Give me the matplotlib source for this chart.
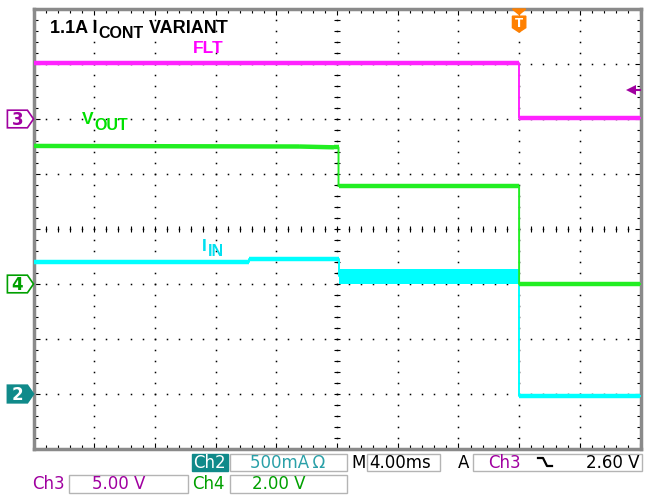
import matplotlib
matplotlib.use("Agg")
import matplotlib.pyplot as plt
from matplotlib.patches import Polygon, Rectangle
import numpy as np

W, H = 657, 496

# scope settings
time_per_div = 4.0          # ms/div
trig_div = 3.0              # trigger position, divisions right of centre
flt_scale, flt_gnd = 5.0, 2.0       # Ch3: V/div, ground level (div)
vout_scale, vout_gnd = 2.0, -1.0    # Ch4
iin_scale, iin_gnd = 0.5, -3.0      # Ch2: A/div
trig_level = 2.60

# traces: breakpoints (ms) and levels
flt_t = [-32, 0, 0, 8]
flt_v = [5.1, 5.1, 0.1, 0.1]
vout_t = [-32, -14.5, -12.2, -11.9, -11.9, 0, 0, 8]
vout_v = [5.02, 5.0, 4.97, 4.97, 3.56, 3.56, 0.0, 0.0]
iin_t = [-32, -17.8, -17.8, -11.9, -11.9, 0, 0, 8]
iin_v = [1.20, 1.20, 1.23, 1.23, 1.07, 1.07, -0.02, -0.02]
iin_ripple_t = [-11.9, 0]
iin_ripple = 0.068          # A, half height of the noisy band

PURPLE = "#a000a0"
GREEN = "#00a000"
TEAL = "#108a8a"


def tdiv(t):
    return np.asarray(t) / time_per_div + trig_div


def vdiv(v, scale, gnd):
    return np.asarray(v) / scale + gnd


fig = plt.figure(figsize=(W / 100, H / 100), dpi=100)
ax = fig.add_axes([33.5 / W, 1 - 449 / H, 607 / W, 440 / H])
ax.set_xlim(-5, 5)
ax.set_ylim(-4, 4)
for s in ax.spines.values():
    s.set_color("#8a8a8a")
    s.set_linewidth(2.5)
ax.set_xticks(np.arange(-5, 5.01, 1))
ax.set_yticks(np.arange(-4, 4.01, 1))
ax.set_xticks(np.arange(-5, 5.01, 0.2), minor=True)
ax.set_yticks(np.arange(-4, 4.01, 0.2), minor=True)
ax.tick_params(which="both", direction="in", top=True, right=True,
               labelbottom=False, labelleft=False, color="black", width=0.8)
ax.tick_params(which="major", length=4)
ax.tick_params(which="minor", length=3)

# dotted graticule
fine = np.arange(-5, 5.01, 0.2)
fine_y = np.arange(-4, 4.01, 0.2)
for gx in range(-4, 5):
    ax.plot(np.full_like(fine_y, gx), fine_y, ls="none", marker="s", ms=1.1,
            color="black", mew=0)
for gy in range(-3, 4):
    ax.plot(fine, np.full_like(fine, gy), ls="none", marker="s", ms=1.1,
            color="black", mew=0)
ax.plot(fine, np.zeros_like(fine), ls="none", marker="|", ms=5, mew=0.8, color="black")
ax.plot(np.zeros_like(fine_y), fine_y, ls="none", marker="_", ms=5, mew=0.8, color="black")


def trace(t, v, scale, gnd, color):
    x = tdiv(t)
    y = vdiv(v, scale, gnd)
    ax.plot(x, y, color=color, lw=1.4, zorder=3)
    for i in range(len(x) - 1):
        if x[i] != x[i + 1]:
            ax.plot(x[i:i + 2], y[i:i + 2], color=color, lw=3.2,
                    solid_capstyle="butt", zorder=3)


trace(flt_t, flt_v, flt_scale, flt_gnd, "#ff22ff")
trace(iin_t, iin_v, iin_scale, iin_gnd, "#00ffff")
mid = iin_v[4]
ax.fill_between(tdiv(iin_ripple_t), vdiv(mid - iin_ripple, iin_scale, iin_gnd),
                vdiv(mid + iin_ripple, iin_scale, iin_gnd), color="#00ffff",
                lw=0, zorder=3)
trace(vout_t, vout_v, vout_scale, vout_gnd, "#22ee22")

# trigger level arrow (right edge)
ty = vdiv(trig_level, flt_scale, flt_gnd)
ax.plot([4.88, 5.0], [ty, ty], color=PURPLE, lw=1.5, clip_on=False, zorder=4)
ax.plot([4.84], [ty], marker="<", ms=7, color=PURPLE, mew=0, clip_on=False, zorder=4)

# trigger position marker
tx = trig_div
ax.add_patch(Polygon([(tx - 0.11, 4.0), (tx + 0.11, 4.0), (tx, 3.9)],
                     color="#ff8000", clip_on=False, zorder=5))
ax.add_patch(Polygon([(tx - 0.11, 3.87), (tx + 0.11, 3.87), (tx + 0.11, 3.66),
                      (tx, 3.58), (tx - 0.11, 3.66)], color="#ff8000",
                     clip_on=False, zorder=5))
ax.text(tx, 3.735, "T", color="white", fontsize=8.5, fontweight="bold",
        ha="center", va="center", family="DejaVu Sans", zorder=6)

# channel ground markers (left edge)
def ch_marker(gnd, label, edge, face, tcol):
    ax.add_patch(Polygon([(-5.43, gnd + 0.16), (-5.1, gnd + 0.16), (-5.0, gnd),
                          (-5.1, gnd - 0.16), (-5.43, gnd - 0.16)],
                         facecolor=face, edgecolor=edge, lw=1.2, clip_on=False,
                         zorder=5))
    ax.text(-5.265, gnd - 0.01, label, color=tcol, fontsize=12, fontweight="bold",
            ha="center", va="center", family="DejaVu Sans", clip_on=False,
            zorder=6)


ch_marker(flt_gnd, "3", PURPLE, "white", PURPLE)
ch_marker(vout_gnd, "4", GREEN, "white", GREEN)
ch_marker(iin_gnd, "2", TEAL, TEAL, "white")

# on-screen annotations (pixel positions)
fig.canvas.draw()
renderer = fig.canvas.get_renderer()


def ptext(x, y, s, color, size, weight="bold", family="Liberation Sans", **kw):
    return fig.text(x / W, 1 - y / H, s, color=color, fontsize=size,
                    fontweight=weight, family=family, va="baseline", **kw)


def sub_text(x, y, main, sub, tail, color, size, sub_size, drop):
    t1 = ptext(x, y, main, color, size)
    x2 = t1.get_window_extent(renderer).x1 + 1
    t2 = ptext(x2, y + drop, sub, color, sub_size)
    if tail:
        x3 = t2.get_window_extent(renderer).x1
        ptext(x3, y, tail, color, size)


sub_text(50, 33, "1.1A I", "CONT", " VARIANT", "black", 13, 11.5, 5)
ptext(193, 53, "FLT", "#ff00ff", 12.5)
sub_text(82, 124, "V", "OUT", None, "#00e000", 12.5, 11.5, 6)
sub_text(202, 251, "I", "IN", None, "#00e0f0", 12.5, 11.5, 5)

# status bar
def box(x0, y0, x1, y1, face="white", edge="#b4b4b4"):
    fig.patches.append(Rectangle((x0 / W, 1 - y1 / H), (x1 - x0) / W, (y1 - y0) / H,
                                 transform=fig.transFigure, facecolor=face,
                                 edgecolor=edge, lw=1))


def stext(x, y, s, color, **kw):
    return ptext(x, y, s, color, 12, weight="normal", family="DejaVu Sans", **kw)


box(192, 454, 228, 471, face=TEAL, edge=TEAL)
box(230, 454, 347, 471)
box(367, 454, 440, 471)
box(473, 454, 642, 471)
box(69, 475, 188, 493)
box(230, 475, 347, 493)

r1, r2 = 467.5, 489
stext(193, r1, "Ch2", "white")
stext(250, r1, "500mA\u2009\u03a9", "#2aa0a8")
stext(351, r1, "M", "black")
stext(369, r1, "4.00ms", "black")
stext(458, r1, "A", "black")
stext(488, r1, "Ch3", PURPLE)
fig.lines.append(plt.Line2D([538 / W, 543 / W, 547 / W, 552 / W],
                            [1 - 458 / H, 1 - 458 / H, 1 - 466 / H, 1 - 466 / H],
                            transform=fig.transFigure, color="black", lw=1.6))
stext(639, r1, "2.60 V", "black", ha="right")
stext(32, r2, "Ch3", PURPLE)
stext(92, r2, "5.00 V", PURPLE)
stext(192, r2, "Ch4", GREEN)
stext(252, r2, "2.00 V", GREEN)

fig.savefig("out.png", dpi=100)
